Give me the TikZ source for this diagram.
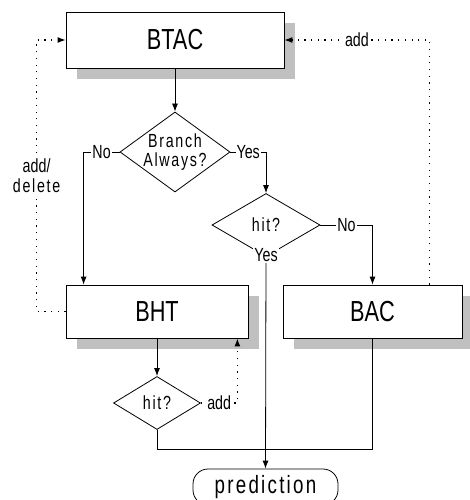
\documentclass[tikz,border=0pt]{standalone}
\usepackage{fontspec}
\setmainfont{Liberation Sans}[FakeStretch=0.75]
\newfontfamily\spaced{Liberation Sans}[FakeStretch=0.75,LetterSpace=9]
\usetikzlibrary{positioning}
\usetikzlibrary{shapes.geometric}
\usetikzlibrary{shadows}
\usetikzlibrary{arrows.meta}
\definecolor{shade}{RGB}{192,192,192}

\begin{document}
\begin{tikzpicture}[x=1pt,y=-1pt,line width=0.8pt,
                >={Latex[length=8pt,width=6pt]},
                box/.style={draw, rectangle, fill=white, font=\fontsize{29}{31}\selectfont,
                    drop shadow={shadow xshift=11pt, shadow yshift=-11pt, fill=shade, opacity=1}},
                decision/.style={draw, diamond, fill=white, inner sep=-5pt, align=center,
                    font=\spaced\fontsize{19}{19}\selectfont},
                tag/.style={fill=white, inner sep=1pt, font=\fontsize{19}{20}\selectfont},
                update/.style={line width=1.2pt, dash pattern=on 1.2pt off 5.5pt}]
            \useasboundingbox (0,0) rectangle (469,500);

            \node[box, minimum width=218pt, minimum height=56pt] (btac) at (175,40) {BTAC};
            \node[decision, minimum width=110pt, minimum height=70pt] (always) at (175,152) {Branch\\Always?};
            \node[decision, minimum width=108pt, minimum height=63pt] (hit1) at (266,225) {hit?};
            \node[box, minimum width=182pt, minimum height=53pt] (bht) at (157,311.5) {BHT};
            \node[box, minimum width=179pt, minimum height=53pt] (bac) at (372.5,311.5) {BAC};
            \node[decision, minimum width=87pt, minimum height=53pt] (hit2) at (157,403) {hit?};
            \node[draw, rounded corners=15pt, minimum width=145pt, minimum height=36pt,
                font=\spaced\fontsize{25}{26}\selectfont] (pred) at (265.5,487) {prediction};

            % main flow
            \draw[->] (btac.south) -- (always.north);
            \draw[->] (always.west) -| node[tag, pos=0.25] {No} ([xshift=18pt]bht.north west);
            \draw[->] (always.east) -| node[tag, pos=0.25] {Yes} (hit1.north);
            \draw[->] (hit1.east) -| node[tag, pos=0.25] {No} (bac.north);
            \draw[->] (hit1.south) -- node[tag, pos=0, yshift=2pt] {Yes} (pred.north);
            \draw[->] (bht.south) -- (hit2.north);
            \draw (hit2.south) -- ++(0,19) -| (bac.south);

            % table updates
            \draw[->, update] (hit2.east) -| node[tag, pos=0.25] {add} ([xshift=-11pt]bht.south east);
            \draw[->, update] ([xshift=-33pt]bac.north east) |- node[tag, pos=0.75] {add} (btac.east);
            \draw[->, update] (bht.west) -- ++(-29,0) |- node[tag, pos=0.25, align=center] {add/\\{\spaced delete}} (btac.west);
        \end{tikzpicture}
\end{document}
